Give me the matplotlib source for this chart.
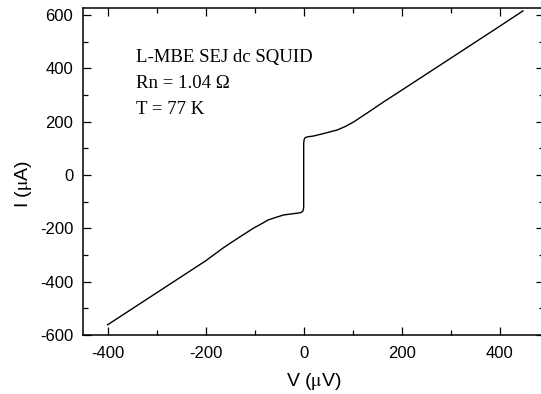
import matplotlib
matplotlib.use("Agg")
import matplotlib.pyplot as plt
from matplotlib.ticker import MultipleLocator

# Data
voltage_uV = [-400, -300, -200, -163, -130, -102, -85, -73, -60, -41, -25, -12, -6, -3, -1, 0, 0, 0,
              1, 3, 8, 20, 40, 69, 85, 102, 130, 163, 200, 300, 400, 447]
current_uA = [-562, -442, -322, -272, -232, -199, -182, -169, -161, -150, -146, -143, -141, -138, -133, -120, 0, 120,
              133, 140, 143, 146, 155, 169, 182, 199, 233, 274, 318, 438, 558, 615]

annotation_lines = ["L-MBE SEJ dc SQUID", "Rn = 1.04 \u03a9", "T = 77 K"]
x_label = r"V ($\mathrm{\mu}$V)"
y_label = r"I ($\mathrm{\mu}$A)"

plt.rcParams['font.family'] = ['Liberation Sans', 'DejaVu Sans']
plt.rcParams['axes.unicode_minus'] = False
plt.rcParams['mathtext.fontset'] = 'stix'

fig = plt.figure(figsize=(5.41, 3.94), dpi=100)
ax = fig.add_axes([83/541, 59/394, (544-83)/541, (335-8)/394])

ax.plot(voltage_uV, current_uA, color='black', lw=1.0)

ax.set_xlim(-450, 490)
ax.set_ylim(-600, 626)

ax.xaxis.set_major_locator(MultipleLocator(200))
ax.xaxis.set_minor_locator(MultipleLocator(100))
ax.yaxis.set_major_locator(MultipleLocator(200))
ax.yaxis.set_minor_locator(MultipleLocator(100))
ax.tick_params(which='both', direction='in', top=True, right=True, width=0.9, labelsize=12)
ax.tick_params(which='major', length=6)
ax.tick_params(which='minor', length=3.5)
ax.tick_params(axis='x', which='major', pad=8)
ax.tick_params(axis='y', which='major', pad=7)
for s in ax.spines.values():
    s.set_linewidth(1.1)

ax.set_xlabel(x_label, fontsize=14)
ax.set_ylabel(y_label, fontsize=14)
ax.xaxis.set_label_coords(0.5, -(382 - 335) / 327, transform=ax.transAxes)
ax.yaxis.set_label_coords(-(83 - 23) / 461, (335 - 184) / 327, transform=ax.transAxes)
ax.xaxis.label.set_va('center')
ax.yaxis.label.set_va('center')

for i, t in enumerate(annotation_lines):
    ax.text((136-83)/(544-83), 1 - (62 - 8 + i*26)/327, t,
            transform=ax.transAxes, fontsize=13.5, family=['Liberation Serif', 'DejaVu Serif'],
            ha='left', va='baseline')

fig.savefig("out.png", dpi=100)
